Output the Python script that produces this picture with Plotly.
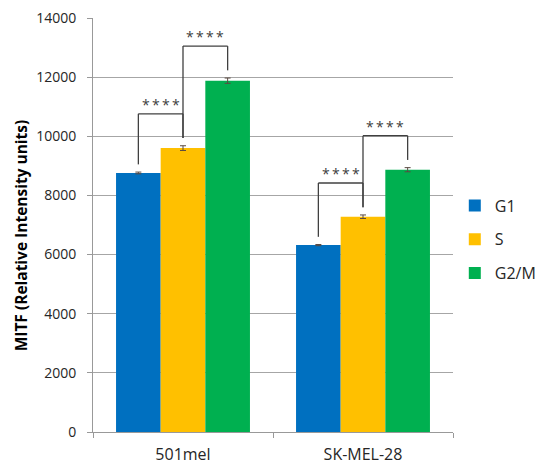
import plotly.graph_objects as go

# Cell lines and cell-cycle phases
cell_lines = ["501mel", "SK-MEL-28"]
phases = ["G1", "S", "G2/M"]

# MITF intensity per phase (one list per phase, ordered like cell_lines)
g1_values = [8760, 6320]
s_values = [9600, 7280]
g2m_values = [11880, 8870]

# Standard errors
g1_err = [30, 20]
s_err = [80, 60]
g2m_err = [90, 70]

# Significance comparisons: (cell line index, phase a, phase b, label)
comparisons = [
    (0, 0, 1, "****"),
    (0, 1, 2, "****"),
    (1, 0, 1, "****"),
    (1, 1, 2, "****"),
]

y_ticks = [0, 2000, 4000, 6000, 8000, 10000, 12000, 14000]

colors = ["#0070C0", "#FFC000", "#00B050"]
values = [g1_values, s_values, g2m_values]
errors = [g1_err, s_err, g2m_err]

BARGAP = 0.256
FONT = "Open Sans"

fig = go.Figure()
for i, phase in enumerate(phases):
    fig.add_trace(go.Bar(
        x=cell_lines,
        y=values[i],
        name=phase,
        legendgroup=phase,
        marker=dict(color=colors[i], line=dict(width=0)),
        error_y=dict(type="data", array=errors[i], color="#5a4a42",
                     thickness=1, width=3),
    ))

# Bracket geometry derived from bar tops
bar_w = (1 - BARGAP) / len(phases)


def bar_x(ci, pi):
    return ci + (pi - (len(phases) - 1) / 2) * bar_w


def bar_top(ci, pi):
    return values[pi][ci] + errors[pi][ci]


LEG_GAP = 260
BRACKET_RISE = 1080
line_style = dict(color="#404040", width=1.3)
for ci, pa, pb, label in comparisons:
    xa, xb = bar_x(ci, pa), bar_x(ci, pb)
    h = max(bar_top(ci, pa), bar_top(ci, pb)) + BRACKET_RISE
    for xx, pi in ((xa, pa), (xb, pb)):
        fig.add_shape(type="line", xref="x", yref="y", x0=xx, x1=xx,
                      y0=bar_top(ci, pi) + LEG_GAP, y1=h, line=line_style)
    fig.add_shape(type="line", xref="x", yref="y", x0=xa, x1=xb,
                  y0=h, y1=h, line=line_style)
    # spread the asterisks slightly with thin spaces
    fig.add_annotation(x=(xa + xb) / 2, y=h, xref="x", yref="y",
                       text="\u2009".join(label), showarrow=False,
                       yanchor="bottom", yshift=-2,
                       font=dict(family=FONT, size=14, color="#404040"))

# Y-axis title as a rotated annotation
fig.add_annotation(x=-0.2, y=0.475, xref="paper", yref="paper",
                   text="<b>MITF (Relative Intensity units)</b>",
                   textangle=-90, showarrow=False,
                   xanchor="center", yanchor="middle",
                   font=dict(family=FONT, size=15.5, color="#000000"))

fig.update_layout(
    width=542, height=466,
    margin=dict(l=93, r=89, t=18, b=34, autoexpand=False),
    paper_bgcolor="white", plot_bgcolor="white",
    barmode="group", bargap=BARGAP, bargroupgap=0,
    font=dict(family=FONT, size=14, color="#262626"),
    showlegend=True,
    legend=dict(x=1.005, xanchor="left", y=0.465, yanchor="middle",
                font=dict(family=FONT, size=16, color="#262626"),
                itemwidth=30,
                tracegroupgap=10, bgcolor="rgba(0,0,0,0)"),
    xaxis=dict(
        type="category",
        showline=True, linecolor="#999999", linewidth=1,
        ticks="outside", tickson="boundaries", ticklen=5, tickcolor="#999999",
        tickfont=dict(family=FONT, size=16, color="#262626"),
        ticklabelstandoff=8,
        showgrid=False,
    ),
    yaxis=dict(
        range=[0, 14000],
        tickvals=y_ticks,
        ticktext=[str(v) for v in y_ticks],
        showline=True, linecolor="#999999", linewidth=1,
        ticks="outside", ticklen=5, tickcolor="#999999",
        showgrid=True, gridcolor="#A6A6A6", gridwidth=1,
        zeroline=False,
        tickfont=dict(family=FONT, size=14, color="#262626"),
        ticklabelstandoff=8,
    ),
)

fig.write_html("out.html")
